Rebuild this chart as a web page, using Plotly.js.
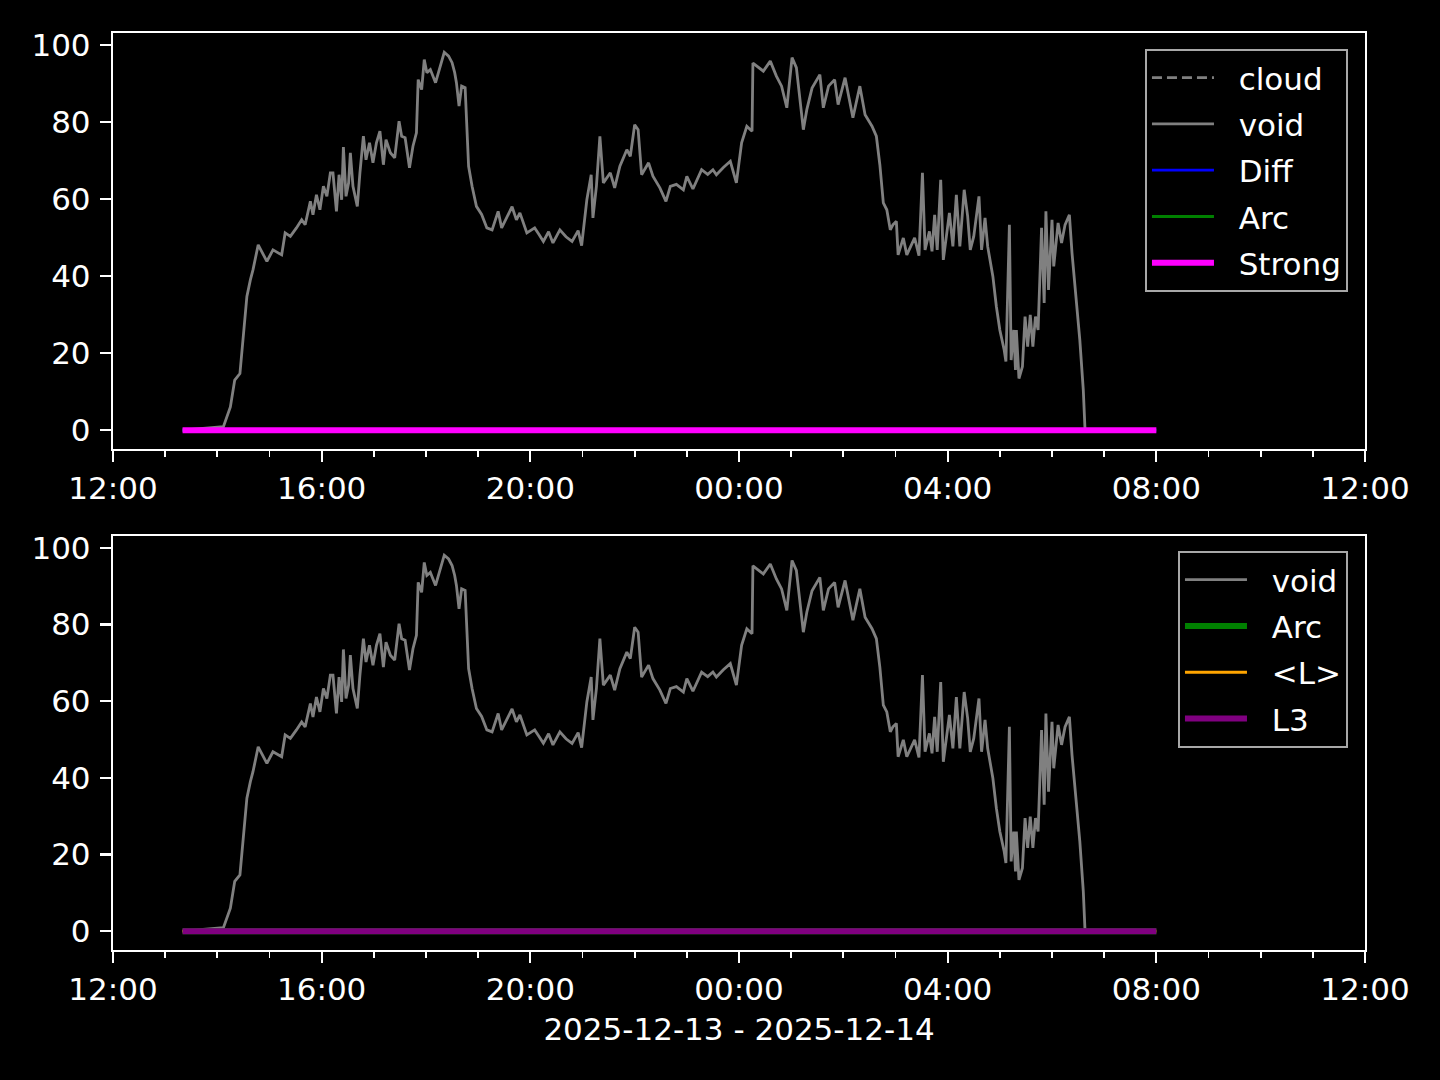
<!DOCTYPE html>
<html>
<head>
<meta charset="utf-8">
<script src="https://cdn.plot.ly/plotly-3.0.1.min.js"></script>
<style>
  html, body { margin: 0; padding: 0; background: #000; }
  #chart { width: 1440px; height: 1080px; }
</style>
</head>
<body>
<div id="chart"></div>
<script>
// ---- data ----
const voidTimes = [
  '2025-12-13 13:20','2025-12-13 14:07','2025-12-13 14:15','2025-12-13 14:20','2025-12-13 14:26',
  '2025-12-13 14:30','2025-12-13 14:34','2025-12-13 14:38','2025-12-13 14:41','2025-12-13 14:47',
  '2025-12-13 14:57','2025-12-13 15:04','2025-12-13 15:14','2025-12-13 15:18','2025-12-13 15:24',
  '2025-12-13 15:31','2025-12-13 15:37','2025-12-13 15:41','2025-12-13 15:47','2025-12-13 15:50',
  '2025-12-13 15:54','2025-12-13 15:58','2025-12-13 16:02','2025-12-13 16:06','2025-12-13 16:10',
  '2025-12-13 16:13','2025-12-13 16:17','2025-12-13 16:20','2025-12-13 16:23','2025-12-13 16:25',
  '2025-12-13 16:28','2025-12-13 16:31','2025-12-13 16:33','2025-12-13 16:36','2025-12-13 16:41',
  '2025-12-13 16:44','2025-12-13 16:48','2025-12-13 16:51','2025-12-13 16:55','2025-12-13 16:59',
  '2025-12-13 17:03','2025-12-13 17:07','2025-12-13 17:11','2025-12-13 17:14','2025-12-13 17:19',
  '2025-12-13 17:24','2025-12-13 17:29','2025-12-13 17:32','2025-12-13 17:36','2025-12-13 17:41',
  '2025-12-13 17:45','2025-12-13 17:49','2025-12-13 17:51','2025-12-13 17:55','2025-12-13 17:58',
  '2025-12-13 18:01','2025-12-13 18:05','2025-12-13 18:11','2025-12-13 18:16','2025-12-13 18:21',
  '2025-12-13 18:26','2025-12-13 18:30','2025-12-13 18:33','2025-12-13 18:35','2025-12-13 18:38',
  '2025-12-13 18:41','2025-12-13 18:45','2025-12-13 18:49','2025-12-13 18:53','2025-12-13 18:58',
  '2025-12-13 19:04','2025-12-13 19:10','2025-12-13 19:16','2025-12-13 19:23','2025-12-13 19:27',
  '2025-12-13 19:33','2025-12-13 19:39','2025-12-13 19:44','2025-12-13 19:48','2025-12-13 19:56',
  '2025-12-13 20:05','2025-12-13 20:10','2025-12-13 20:15','2025-12-13 20:21','2025-12-13 20:26',
  '2025-12-13 20:34','2025-12-13 20:41','2025-12-13 20:48','2025-12-13 20:55','2025-12-13 20:59',
  '2025-12-13 21:05','2025-12-13 21:10','2025-12-13 21:12','2025-12-13 21:16','2025-12-13 21:20',
  '2025-12-13 21:24','2025-12-13 21:32','2025-12-13 21:37','2025-12-13 21:43','2025-12-13 21:51',
  '2025-12-13 21:55','2025-12-13 22:00','2025-12-13 22:04','2025-12-13 22:08','2025-12-13 22:16',
  '2025-12-13 22:21','2025-12-13 22:29','2025-12-13 22:36','2025-12-13 22:41','2025-12-13 22:48',
  '2025-12-13 22:56','2025-12-13 23:00','2025-12-13 23:07','2025-12-13 23:17','2025-12-13 23:24',
  '2025-12-13 23:30','2025-12-13 23:34','2025-12-13 23:42','2025-12-13 23:50','2025-12-13 23:57',
  '2025-12-14 00:03','2025-12-14 00:09','2025-12-14 00:15','2025-12-14 00:16','2025-12-14 00:28',
  '2025-12-14 00:36','2025-12-14 00:43','2025-12-14 00:49','2025-12-14 00:55','2025-12-14 01:01',
  '2025-12-14 01:06','2025-12-14 01:14','2025-12-14 01:18','2025-12-14 01:24','2025-12-14 01:33',
  '2025-12-14 01:37','2025-12-14 01:43','2025-12-14 01:50','2025-12-14 01:54','2025-12-14 02:02',
  '2025-12-14 02:11','2025-12-14 02:19','2025-12-14 02:25','2025-12-14 02:33','2025-12-14 02:38',
  '2025-12-14 02:42','2025-12-14 02:46','2025-12-14 02:50','2025-12-14 02:54','2025-12-14 02:57',
  '2025-12-14 03:01','2025-12-14 03:03','2025-12-14 03:09','2025-12-14 03:13','2025-12-14 03:19',
  '2025-12-14 03:22','2025-12-14 03:27','2025-12-14 03:31','2025-12-14 03:34','2025-12-14 03:39',
  '2025-12-14 03:42','2025-12-14 03:45','2025-12-14 03:48','2025-12-14 03:52','2025-12-14 03:55',
  '2025-12-14 03:59','2025-12-14 04:02','2025-12-14 04:06','2025-12-14 04:10','2025-12-14 04:14',
  '2025-12-14 04:19','2025-12-14 04:23','2025-12-14 04:26','2025-12-14 04:30','2025-12-14 04:36',
  '2025-12-14 04:39','2025-12-14 04:43','2025-12-14 04:46','2025-12-14 04:49','2025-12-14 04:52',
  '2025-12-14 04:56','2025-12-14 05:00','2025-12-14 05:05','2025-12-14 05:07','2025-12-14 05:11',
  '2025-12-14 05:13','2025-12-14 05:16','2025-12-14 05:18','2025-12-14 05:19','2025-12-14 05:22',
  '2025-12-14 05:26','2025-12-14 05:29','2025-12-14 05:32','2025-12-14 05:35','2025-12-14 05:38',
  '2025-12-14 05:41','2025-12-14 05:44','2025-12-14 05:48','2025-12-14 05:51','2025-12-14 05:53',
  '2025-12-14 05:56','2025-12-14 06:00','2025-12-14 06:02','2025-12-14 06:07','2025-12-14 06:11',
  '2025-12-14 06:15','2025-12-14 06:20','2025-12-14 06:23','2025-12-14 06:32','2025-12-14 06:36',
  '2025-12-14 06:38'
];
const voidValues = [
  0, 0.9, 6, 13, 14.7,
  24.3, 34.7, 39, 41.6, 48.1,
  43.8, 46.8, 45.5, 51.2, 50.3,
  52.5, 54.6, 53.3, 59.4, 55.9,
  61.1, 57.2, 63.3, 60.7, 66.8,
  66.8, 56.8, 66.3, 59.8, 73.5,
  60.7, 64.2, 72, 63.3, 58.1,
  66.8, 76.3, 70.2, 74.6, 69.4,
  74.6, 77.6, 68.9, 75.4, 72,
  70.7, 80.2, 76.3, 75.9, 68.1,
  73.7, 77.2, 91, 88.4, 96.2,
  92.8, 93.6, 90.2, 94.5, 98.1,
  97.1, 95.4, 92.8, 90.2, 84.1,
  89.3, 88.9, 68.5, 63.3, 58.1,
  56, 52.5, 52, 56.8, 52.5,
  55.4, 58, 54.6, 56.4, 51.2,
  52.5, 50.8, 49, 51.5, 48.6,
  52, 50.2, 49, 51.8, 47.9,
  59.8, 66.3, 55.1, 63.3, 76.3,
  64.2, 66.8, 62.9, 68.5, 72.8,
  71.1, 79.3, 78, 66.3, 69.4,
  65.9, 62.9, 59.4, 63.3, 63.8,
  62.4, 65.9, 62.6, 67.6, 66.4,
  67.6, 66.3, 68.2, 69.8, 64.2,
  74.6, 78.9, 77.6, 95.3, 93.2,
  95.8, 91.9, 89.3, 83.7, 96.7,
  94.1, 78, 83.2, 88.8, 92.3,
  83.7, 89.3, 91, 84.5, 91.5,
  81.1, 89.3, 81.9, 78.9, 76.3,
  68.9, 59, 57.2, 52, 53.3,
  54.2, 45.5, 49.9, 45.5, 48.6,
  49.9, 45.3, 66.8, 46.8, 51.6,
  46.4, 55.9, 46.8, 65, 44.2,
  51.2, 56.4, 47.7, 61.1, 47.7,
  62.4, 55.5, 46.8, 50.3, 60.7,
  46.8, 55.1, 47.7, 44.2, 39.9,
  32.1, 26, 20.8, 17.8, 53.3,
  18.2, 26, 15.6, 26, 13.4,
  16.5, 29.5, 21.7, 29.9, 21.7,
  29.5, 26, 52.5, 33, 56.8,
  36.4, 54.6, 42.5, 53.8, 48.6,
  53.3, 55.9, 46, 23.4, 10.4,
  0
];
// flat series (all zero over the logged period)
const flatTimes = ['2025-12-13 13:20', '2025-12-14 08:00'];
const cloudValues = [0, 0];
const diffValues = [0, 0];
const arcValues = [0, 0];
const strongValues = [0, 0];
const meanLValues = [0, 0];
const l3Values = [0, 0];

const yTicks = [0, 20, 40, 60, 80, 100];
const xRange = ['2025-12-13 12:00', '2025-12-14 12:00'];
const xLabel = '2025-12-13 - 2025-12-14';

// ---- traces ----
const thin = 2.8, thick = 6;
const pad = '\u00a0\u00a0';
const traces = [
  {x: flatTimes, y: cloudValues, name: 'cloud', line: {color: '#808080', width: thin, dash: '10px,5px'}, xaxis: 'x', yaxis: 'y', legend: 'legend', legendgroup: 'a1'},
  {x: voidTimes, y: voidValues, name: 'void', line: {color: '#808080', width: thin}, xaxis: 'x', yaxis: 'y', legend: 'legend', legendgroup: 'a2'},
  {x: flatTimes, y: diffValues, name: 'Diff', line: {color: '#0000ff', width: thin}, xaxis: 'x', yaxis: 'y', legend: 'legend', legendgroup: 'a3'},
  {x: flatTimes, y: arcValues, name: 'Arc', line: {color: '#008000', width: thin}, xaxis: 'x', yaxis: 'y', legend: 'legend', legendgroup: 'a4'},
  {x: flatTimes, y: strongValues, name: 'Strong', line: {color: '#ff00ff', width: thick}, xaxis: 'x', yaxis: 'y', legend: 'legend', legendgroup: 'a5'},

  {x: voidTimes, y: voidValues, name: 'void', line: {color: '#808080', width: thin}, xaxis: 'x2', yaxis: 'y2', legend: 'legend2', legendgroup: 'b1'},
  {x: flatTimes, y: arcValues, name: 'Arc', line: {color: '#008000', width: thick}, xaxis: 'x2', yaxis: 'y2', legend: 'legend2', legendgroup: 'b2'},
  {x: flatTimes, y: meanLValues, name: '<L>', line: {color: '#ffa500', width: thin}, xaxis: 'x2', yaxis: 'y2', legend: 'legend2', legendgroup: 'b3'},
  {x: flatTimes, y: l3Values, name: 'L3', line: {color: '#800080', width: thick}, xaxis: 'x2', yaxis: 'y2', legend: 'legend2', legendgroup: 'b4'}
].map(t => Object.assign({type: 'scatter', mode: 'lines', hoverinfo: 'skip'}, t, {name: pad + t.name}));

const fontFam = 'DejaVu Sans, sans-serif';
const baseX = {
  type: 'date',
  range: xRange,
  tick0: '2025-12-13 12:00',
  dtick: 4 * 3600000,
  tickformat: '%H:%M',
  ticks: 'outside', ticklen: 11, tickwidth: 2.2, tickcolor: '#ffffff',
  showline: true, linecolor: '#ffffff', linewidth: 2.2, mirror: true,
  showgrid: false, zeroline: false,
  tickfont: {size: 31, color: '#ffffff', family: fontFam},
  minor: {dtick: 3600000, tick0: '2025-12-13 12:00', ticks: 'outside', ticklen: 6, tickwidth: 1.8, tickcolor: '#ffffff', showgrid: false}
};
const baseY = {
  range: [-4.91, 103.1],
  tickvals: yTicks,
  ticktext: yTicks.map(String),
  ticks: 'outside', ticklen: 11, tickwidth: 2.2, tickcolor: '#ffffff',
  showline: true, linecolor: '#ffffff', linewidth: 2.2, mirror: true,
  showgrid: false, zeroline: false,
  ticklabelstandoff: 3,
  tickfont: {size: 31, color: '#ffffff', family: fontFam}
};
const legendBase = {
  bgcolor: '#000000', bordercolor: '#a8a8a8', borderwidth: 2,
  font: {size: 31, color: '#ffffff', family: fontFam},
  xanchor: 'right', yanchor: 'top', xref: 'paper', yref: 'paper',
  traceorder: 'grouped', tracegroupgap: 3, itemwidth: 62
};

const layout = {
  width: 1440, height: 1080,
  paper_bgcolor: '#000000', plot_bgcolor: '#000000',
  font: {family: fontFam, color: '#ffffff', size: 31},
  margin: {l: 113, r: 75, t: 33, b: 130},
  showlegend: true,
  xaxis: Object.assign({}, baseX, {anchor: 'y', domain: [0, 1]}),
  yaxis: Object.assign({}, baseY, {anchor: 'x', domain: [0.5463, 1]}),
  xaxis2: Object.assign({}, baseX, {anchor: 'y2', domain: [0, 1],
    title: {text: xLabel, font: {size: 31, color: '#ffffff', family: fontFam}, standoff: 12}}),
  yaxis2: Object.assign({}, baseY, {anchor: 'x2', domain: [0, 0.4515]}),
  legend: Object.assign({}, legendBase, {x: 0.9864, y: 0.9826}),
  legend2: Object.assign({}, legendBase, {x: 0.9864, y: 0.4351})
};

Plotly.newPlot('chart', traces, layout, {displayModeBar: false, staticPlot: true});
</script>
</body>
</html>
